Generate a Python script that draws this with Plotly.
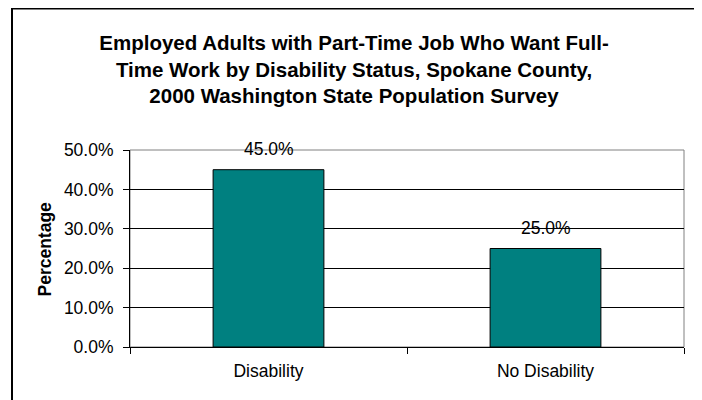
import plotly.graph_objects as go

categories = ["Disability", "No Disability"]
values = [45.0, 25.0]
y_ticks = [0, 10, 20, 30, 40, 50]
y_tick_labels = ["0.0%", "10.0%", "20.0%", "30.0%", "40.0%", "50.0%"]
title_text = ("Employed Adults with Part-Time Job Who Want Full-<br>"
              "Time Work by Disability Status, Spokane County,<br>"
              "2000 Washington State Population Survey")

FONT = "Liberation Sans, Arial, sans-serif"
FS = 17.5

fig = go.Figure()
fig.add_trace(go.Bar(
    x=categories, y=values,
    marker=dict(color="#008080", line=dict(color="black", width=1)),
    width=0.4,
    hoverinfo="skip",
))

for c, v in zip(categories, values):
    fig.add_annotation(x=c, y=v, xref="x", yref="y", text=f"{v:.1f}%",
                       showarrow=False, yanchor="bottom", yshift=9,
                       font=dict(family=FONT, size=FS, color="black"))

L, R, T, B = 122, 26, 142, 61
W, H = 702, 400
pw = W - L - R
ph = H - T - B

def px(x):
    return (x - L) / pw

def py(y):
    return (H - B - y) / ph

# outer chart border
fig.add_shape(type="rect", xref="paper", yref="paper",
              x0=px(4), x1=px(689), y0=py(405), y1=py(0.5),
              line=dict(color="black", width=2), layer="below")
# plot area border (top/right gray)
fig.add_shape(type="rect", xref="paper", yref="paper",
              x0=0, x1=1, y0=0, y1=1,
              line=dict(color="#808080", width=1), layer="below")

fig.add_annotation(x=px(36), y=0.5, xref="paper", yref="paper",
                   xanchor="center", yanchor="middle",
                   text="<b>Percentage</b>", textangle=-90, showarrow=False,
                   font=dict(family=FONT, size=FS, color="black"))

fig.update_layout(
    width=W, height=H,
    margin=dict(l=L, r=R, t=T, b=B),
    paper_bgcolor="white", plot_bgcolor="white",
    showlegend=False,
    title=dict(text=f"<b>{title_text}</b>", x=px(346), xanchor="center",
               xref="paper", y=(H - 42) / H, yanchor="middle", yref="container",
               font=dict(family=FONT, size=20.5, color="black")),
    font=dict(family=FONT, size=FS, color="black"),
)

fig.update_xaxes(
    showline=True, linecolor="black", linewidth=1,
    ticks="outside", tickson="boundaries", ticklen=6, tickcolor="black",
    showgrid=False, ticklabelstandoff=8,
    tickfont=dict(family=FONT, size=FS, color="black"),
)
fig.update_yaxes(
    range=[0, 50], tickvals=y_ticks, ticktext=y_tick_labels,
    showline=True, linecolor="black", linewidth=1,
    ticks="outside", ticklen=6, tickcolor="black",
    showgrid=True, gridcolor="black", gridwidth=1,
    ticklabelstandoff=6, zeroline=False,
    tickfont=dict(family=FONT, size=FS, color="black"),
)

fig.write_html("out.html")
